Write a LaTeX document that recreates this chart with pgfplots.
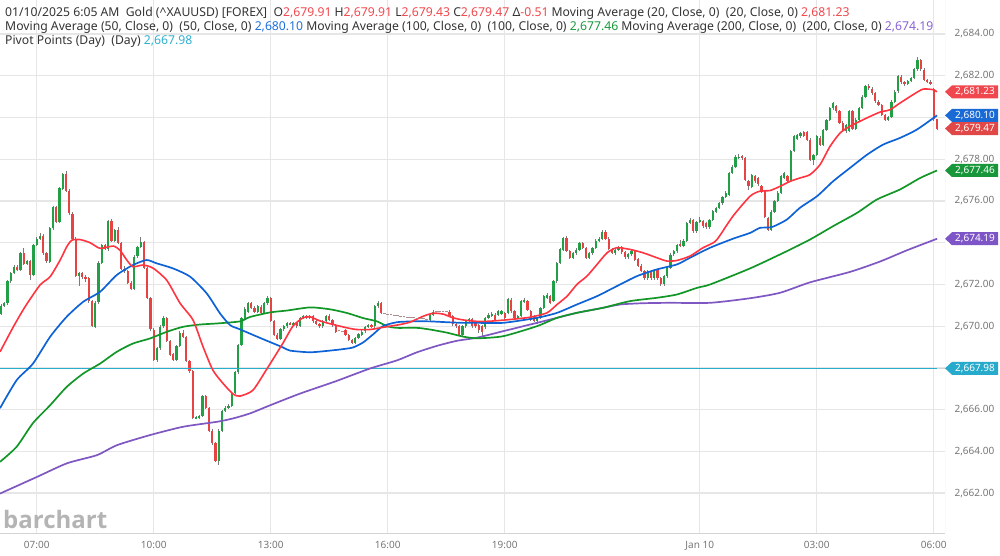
\documentclass[border=0pt]{standalone}
\usepackage{pgfplots}
\pgfplotsset{compat=1.18}
\usepackage{pgfplotstable}
\usepackage{fontspec}
\setmainfont{Noto Sans}
\newfontfamily\logofont{Open Sans}
\definecolor{cg}{HTML}{22A045}
\definecolor{cr}{HTML}{E84343}
\definecolor{wick}{HTML}{7A7A7A}
\definecolor{dojic}{HTML}{A89090}
\definecolor{ma20}{HTML}{FF3440}
\definecolor{ma50}{HTML}{0D62D6}
\definecolor{ma100}{HTML}{129628}
\definecolor{ma200}{HTML}{7E57C2}
\definecolor{piv}{HTML}{26AECC}
\definecolor{gridc}{HTML}{E6E6E6}
\definecolor{axisc}{HTML}{D4D4D4}
\definecolor{tickc}{HTML}{767676}
\definecolor{txt}{HTML}{333333}
\definecolor{hred}{HTML}{F0484E}
\definecolor{hblue}{HTML}{1E6FDB}
\definecolor{hgreen}{HTML}{1A9A3A}
\definecolor{hpurple}{HTML}{8A63D2}
\definecolor{hcyan}{HTML}{2EB0D0}
\definecolor{logoc}{HTML}{B4B4B4}
\definecolor{tagred}{HTML}{F0464E}
\definecolor{tagred2}{HTML}{E04848}
\definecolor{tagblue}{HTML}{1A6AD6}
\definecolor{taggreen}{HTML}{17963A}
\definecolor{tagpurple}{HTML}{7D55C7}
\definecolor{tagcyan}{HTML}{27AACB}

\pgfplotstableread{
k o h l c
0 2670.60 2671.06 2670.54 2671.00
1 2671.00 2671.16 2670.94 2671.10
2 2671.10 2672.21 2671.04 2672.15
3 2672.15 2672.61 2672.09 2672.55
4 2672.55 2672.95 2672.49 2672.85
5 2672.85 2672.91 2672.64 2672.70
6 2672.70 2673.56 2672.64 2673.50
7 2673.50 2673.75 2672.94 2673.00
8 2673.00 2673.16 2672.94 2673.10
9 2673.10 2673.16 2672.20 2672.45
10 2672.45 2673.96 2672.39 2673.90
11 2673.90 2674.26 2673.84 2674.20
12 2674.20 2674.45 2674.14 2674.35
13 2674.35 2674.41 2673.44 2673.50
14 2673.50 2673.56 2673.04 2673.10
15 2673.10 2674.76 2673.04 2674.70
16 2674.70 2675.76 2674.64 2675.70
17 2675.70 2675.76 2674.94 2675.00
18 2675.00 2676.66 2674.94 2676.60
19 2676.60 2677.36 2676.54 2677.30
20 2677.30 2677.42 2676.44 2676.50
21 2676.50 2676.56 2675.34 2675.40
22 2675.40 2675.46 2674.14 2674.20
23 2674.20 2674.26 2672.34 2672.40
24 2672.40 2672.61 2671.95 2672.55
25 2672.55 2672.61 2672.29 2672.35
26 2672.35 2672.45 2672.15 2672.30
27 2672.30 2672.36 2671.14 2671.20
28 2671.20 2671.26 2669.94 2670.00
29 2670.00 2671.21 2669.94 2671.15
30 2671.15 2673.11 2671.09 2673.05
31 2673.05 2673.96 2672.99 2673.90
32 2673.90 2673.96 2673.64 2673.70
33 2673.70 2675.11 2673.64 2675.05
34 2675.05 2675.15 2674.04 2674.10
35 2674.10 2674.66 2674.04 2674.60
36 2674.60 2674.75 2673.94 2674.00
37 2674.00 2674.06 2672.69 2672.75
38 2672.75 2672.90 2672.55 2672.65
39 2672.65 2672.71 2672.04 2672.10
40 2672.10 2672.16 2671.74 2671.80
41 2671.80 2673.41 2671.74 2673.35
42 2673.35 2673.86 2673.29 2673.80
43 2673.80 2674.30 2673.74 2674.05
44 2674.05 2674.11 2672.74 2672.80
45 2672.80 2672.86 2671.29 2671.35
46 2671.35 2671.41 2669.79 2669.85
47 2669.85 2669.91 2668.34 2668.40
48 2668.40 2669.01 2668.30 2668.95
49 2668.95 2670.06 2668.89 2670.00
50 2670.00 2670.50 2669.94 2670.40
51 2670.40 2670.46 2669.24 2669.30
52 2669.30 2669.36 2668.59 2668.65
53 2668.65 2668.71 2668.34 2668.40
54 2668.40 2669.11 2668.34 2669.05
55 2669.05 2669.76 2668.99 2669.70
56 2669.70 2669.80 2669.44 2669.50
57 2669.50 2669.56 2668.29 2668.35
58 2668.35 2668.41 2667.79 2667.85
59 2667.85 2667.91 2665.54 2665.60
60 2665.60 2665.71 2665.54 2665.65
61 2665.65 2665.76 2665.59 2665.70
62 2665.70 2666.71 2665.64 2666.65
63 2666.65 2666.71 2666.04 2666.10
64 2666.10 2666.16 2664.94 2665.00
65 2665.00 2665.06 2664.34 2664.40
66 2664.40 2664.46 2663.49 2663.55
67 2663.55 2665.06 2663.35 2665.00
68 2665.00 2666.01 2664.94 2665.95
69 2665.95 2666.16 2665.89 2666.10
70 2666.10 2666.26 2666.04 2666.20
71 2666.20 2666.86 2666.14 2666.80
72 2666.80 2667.86 2666.74 2667.80
73 2667.80 2669.16 2667.74 2669.10
74 2669.10 2670.46 2669.04 2670.40
75 2670.40 2670.91 2670.34 2670.85
76 2670.70 2671.16 2670.64 2671.10
77 2671.10 2671.16 2670.84 2670.90
78 2670.90 2670.96 2670.64 2670.70
79 2670.70 2671.01 2670.64 2670.95
80 2670.95 2671.01 2670.59 2670.65
81 2670.65 2671.16 2670.59 2671.10
82 2671.10 2671.45 2671.04 2671.35
83 2671.35 2671.41 2670.19 2670.25
84 2670.25 2670.31 2669.54 2669.60
85 2669.60 2669.66 2669.34 2669.40
86 2669.40 2669.91 2669.34 2669.85
87 2669.85 2670.06 2669.79 2670.00
88 2670.00 2670.21 2669.94 2670.15
89 2670.15 2670.21 2670.04 2670.10
90 2670.10 2670.21 2670.04 2670.15
91 2670.15 2670.21 2669.94 2670.00
92 2670.00 2670.46 2669.94 2670.40
93 2670.40 2670.56 2670.34 2670.50
94 2670.50 2670.56 2670.34 2670.40
95 2670.40 2670.56 2670.34 2670.50
96 2670.50 2670.56 2670.19 2670.25
97 2670.25 2670.31 2670.04 2670.10
98 2670.10 2670.16 2669.94 2670.00
99 2670.00 2670.31 2669.94 2670.25
100 2670.25 2670.56 2670.19 2670.50
101 2670.50 2670.60 2670.24 2670.30
102 2670.30 2670.36 2669.99 2670.05
103 2670.05 2670.11 2669.69 2669.75
104 2669.80 2669.80 2669.80 2669.80
105 2669.75 2669.75 2669.75 2669.75
106 2669.80 2669.86 2669.54 2669.60
107 2669.60 2669.66 2669.29 2669.35
108 2669.35 2669.41 2669.14 2669.20
109 2669.20 2669.51 2669.14 2669.45
110 2669.45 2669.66 2669.39 2669.60
111 2669.60 2669.81 2669.54 2669.75
112 2669.75 2670.01 2669.69 2669.95
113 2669.95 2670.11 2669.89 2670.05
114 2670.05 2670.11 2669.94 2670.00
115 2670.00 2671.01 2669.94 2670.95
116 2670.95 2671.20 2670.89 2671.10
117 2671.10 2671.16 2670.59 2670.65
118 2670.60 2670.60 2670.60 2670.60
119 2670.55 2670.55 2670.55 2670.55
120 2670.55 2670.55 2670.55 2670.55
121 2670.50 2670.50 2670.50 2670.50
122 2670.50 2670.50 2670.50 2670.50
123 2670.45 2670.45 2670.45 2670.45
124 2670.45 2670.45 2670.45 2670.45
125 2670.40 2670.40 2670.40 2670.40
126 2670.40 2670.40 2670.40 2670.40
127 2670.40 2670.40 2670.40 2670.40
128 2670.35 2670.35 2670.35 2670.35
129 2670.35 2670.35 2670.35 2670.35
130 2670.35 2670.35 2670.35 2670.35
131 2670.30 2670.30 2670.30 2670.30
132 2670.30 2670.61 2670.24 2670.55
133 2670.55 2670.76 2670.49 2670.70
134 2670.70 2670.70 2670.70 2670.70
135 2670.72 2670.72 2670.72 2670.72
136 2670.72 2670.72 2670.72 2670.72
137 2670.70 2670.70 2670.70 2670.70
138 2670.70 2670.76 2670.44 2670.50
139 2670.50 2670.56 2670.04 2670.10
140 2670.10 2670.16 2669.94 2670.00
141 2670.00 2670.06 2669.54 2669.60
142 2669.60 2670.06 2669.54 2670.00
143 2670.00 2670.31 2669.94 2670.25
144 2670.25 2670.41 2670.19 2670.35
145 2670.35 2670.41 2669.94 2670.00
146 2670.15 2670.21 2669.94 2670.00
147 2670.05 2670.11 2669.70 2669.84
148 2670.00 2670.06 2669.55 2669.70
149 2669.95 2670.46 2669.89 2670.40
150 2670.40 2670.62 2670.34 2670.56
151 2670.50 2670.66 2670.44 2670.60
152 2670.56 2670.62 2670.24 2670.30
153 2670.56 2670.78 2670.50 2670.72
154 2670.60 2670.78 2670.54 2670.72
155 2670.64 2670.70 2670.34 2670.40
156 2670.64 2671.34 2670.58 2671.28
157 2671.28 2671.34 2670.66 2670.72
158 2670.72 2670.78 2670.34 2670.40
159 2670.40 2670.56 2670.34 2670.50
160 2670.48 2671.26 2670.42 2671.20
161 2671.20 2671.35 2671.14 2671.28
162 2671.20 2671.26 2670.74 2670.80
163 2670.72 2670.78 2670.26 2670.32
164 2670.48 2670.54 2670.21 2670.27
165 2670.24 2670.46 2670.10 2670.40
166 2670.40 2670.94 2670.34 2670.88
167 2670.88 2671.50 2670.82 2671.44
168 2671.36 2671.58 2671.30 2671.52
169 2671.44 2671.50 2671.06 2671.12
170 2671.20 2672.22 2671.14 2672.16
171 2672.16 2673.10 2672.10 2673.04
172 2673.04 2673.74 2672.98 2673.68
173 2673.68 2674.30 2673.62 2674.24
174 2674.24 2674.30 2673.54 2673.60
175 2673.60 2673.66 2673.22 2673.28
176 2673.28 2673.58 2673.22 2673.52
177 2673.50 2673.74 2673.44 2673.68
178 2673.68 2674.06 2673.62 2674.00
179 2674.00 2674.06 2673.70 2673.76
180 2673.76 2673.82 2673.24 2673.30
181 2673.30 2673.56 2673.24 2673.50
182 2673.50 2673.81 2673.44 2673.75
183 2673.75 2674.16 2673.69 2674.10
184 2674.10 2674.26 2674.04 2674.20
185 2674.20 2674.61 2674.14 2674.55
186 2674.55 2674.61 2674.14 2674.20
187 2674.20 2674.26 2673.64 2673.70
188 2673.70 2673.76 2673.44 2673.50
189 2673.50 2673.71 2673.44 2673.65
190 2673.65 2673.86 2673.59 2673.80
191 2673.80 2673.86 2673.49 2673.55
192 2673.55 2673.61 2673.24 2673.30
193 2673.30 2673.51 2673.24 2673.45
194 2673.45 2673.66 2673.39 2673.60
195 2673.60 2673.66 2673.14 2673.20
196 2673.20 2673.26 2672.84 2672.90
197 2672.90 2672.96 2672.59 2672.65
198 2672.65 2672.71 2672.24 2672.30
199 2672.30 2672.71 2672.24 2672.65
200 2672.65 2672.71 2672.24 2672.30
201 2672.30 2672.76 2672.24 2672.70
202 2672.70 2672.76 2672.24 2672.30
203 2672.30 2672.36 2671.94 2672.00
204 2672.00 2672.46 2671.94 2672.40
205 2672.40 2672.86 2672.34 2672.80
206 2672.80 2673.51 2672.74 2673.45
207 2673.45 2673.66 2673.39 2673.60
208 2673.60 2673.96 2673.54 2673.90
209 2673.95 2674.15 2673.79 2673.85
210 2673.85 2674.16 2673.79 2674.10
211 2674.10 2675.01 2674.04 2674.95
212 2674.95 2675.20 2674.89 2675.10
213 2675.10 2675.16 2674.49 2674.55
214 2674.55 2675.06 2674.49 2675.00
215 2675.00 2675.25 2674.94 2675.10
216 2675.05 2675.11 2674.74 2674.80
217 2674.95 2675.01 2674.69 2674.75
218 2674.75 2675.16 2674.69 2675.10
219 2675.10 2675.56 2675.04 2675.50
220 2675.50 2675.73 2675.44 2675.67
221 2675.67 2675.96 2675.61 2675.90
222 2675.90 2676.26 2675.84 2676.20
223 2676.20 2676.50 2676.14 2676.40
224 2676.30 2677.41 2676.24 2677.35
225 2677.35 2677.72 2677.29 2677.66
226 2677.66 2678.20 2677.60 2678.14
227 2678.06 2678.25 2678.00 2678.14
228 2678.14 2678.20 2677.99 2678.05
229 2678.05 2678.11 2676.94 2677.00
230 2676.95 2677.01 2676.55 2676.70
231 2676.70 2677.32 2676.64 2677.26
232 2677.20 2677.26 2676.89 2676.95
233 2677.10 2677.16 2676.74 2676.80
234 2676.70 2676.76 2676.39 2676.45
235 2676.50 2676.56 2675.21 2675.27
236 2675.20 2675.26 2674.55 2674.64
237 2674.64 2675.56 2674.58 2675.50
238 2675.50 2676.06 2675.44 2676.00
239 2676.00 2676.46 2675.94 2676.40
240 2676.40 2677.26 2676.34 2677.20
241 2677.10 2677.41 2677.04 2677.35
242 2677.20 2677.26 2676.89 2676.95
243 2676.95 2678.46 2676.89 2678.40
244 2678.40 2679.16 2678.34 2679.10
245 2679.00 2679.24 2678.94 2679.18
246 2679.10 2679.30 2679.04 2679.25
247 2679.30 2679.36 2679.09 2679.15
248 2679.30 2679.36 2678.89 2678.95
249 2678.95 2679.01 2677.92 2677.98
250 2677.98 2678.26 2677.75 2678.20
251 2678.20 2679.16 2678.14 2679.10
252 2679.05 2679.11 2678.64 2678.70
253 2678.70 2679.46 2678.64 2679.40
254 2679.40 2679.96 2679.34 2679.90
255 2679.90 2680.51 2679.84 2680.45
256 2680.45 2680.78 2680.39 2680.70
257 2680.55 2680.61 2680.24 2680.30
258 2680.30 2680.36 2679.69 2679.75
259 2679.75 2679.81 2679.29 2679.35
260 2679.35 2679.71 2679.29 2679.65
261 2679.35 2680.36 2679.29 2680.30
262 2680.30 2680.36 2679.39 2679.45
263 2679.45 2679.96 2679.39 2679.90
264 2679.90 2680.51 2679.84 2680.45
265 2680.45 2681.06 2680.39 2681.00
266 2681.00 2681.56 2680.94 2681.50
267 2681.50 2681.60 2681.34 2681.40
268 2681.40 2681.46 2681.11 2681.17
269 2681.17 2681.23 2680.71 2680.77
270 2680.77 2680.83 2680.54 2680.60
271 2680.60 2680.66 2680.07 2680.13
272 2680.13 2680.19 2679.84 2679.90
273 2679.90 2680.11 2679.84 2680.05
274 2680.05 2680.83 2679.99 2680.77
275 2680.77 2681.31 2680.71 2681.25
276 2681.25 2682.03 2681.19 2681.97
277 2681.97 2682.03 2681.64 2681.70
278 2681.70 2681.76 2681.54 2681.60
279 2681.60 2681.81 2681.54 2681.75
280 2681.75 2681.96 2681.69 2681.90
281 2681.90 2682.36 2681.84 2682.30
282 2682.30 2682.93 2682.24 2682.76
283 2682.76 2682.82 2682.24 2682.30
284 2682.30 2682.36 2681.74 2681.80
285 2681.80 2681.86 2681.66 2681.72
286 2681.72 2681.78 2681.54 2681.60
287 2681.36 2681.42 2679.85 2679.91
288 2679.91 2679.91 2679.43 2679.47
}\candles

\pgfplotstableread{
k v
104 2669.80
105 2669.75
118 2670.60
119 2670.55
120 2670.55
121 2670.50
122 2670.50
123 2670.45
124 2670.45
125 2670.40
126 2670.40
127 2670.40
128 2670.35
129 2670.35
130 2670.35
131 2670.30
134 2670.70
135 2670.72
136 2670.72
137 2670.70
}\dojis

\newcommand\pricetag[3]{%
  \fill[#2] (#1) -- ++(7pt,6.5pt) -- ++(46pt,0pt) -- ++(0pt,-13pt) -- ++(-46pt,0pt) -- cycle;
  \node[text=white, font=\bfseries\fontsize{10}{11}\selectfont, anchor=center, inner sep=0pt] at ([xshift=30pt]#1) {#3};}

\pgfplotsset{nomark/.style={only marks, mark=*, mark size=0pt, mark options={draw=none, fill=none}}}

\begin{document}
\begin{tikzpicture}
\useasboundingbox (0,-22pt) rectangle (1000pt,533pt);
\begin{axis}[
  at={(0,0)}, anchor=south west,
  width=945pt, height=533pt, scale only axis,
  xmin=-0.31, xmax=290.46, ymin=2660.09, ymax=2685.63,
  axis line style={draw=none},
  major tick length=0pt,
  grid=major, grid style={draw=gridc, line width=1.3pt},
  xtick={11,47,83,119,155,215,251,287},
  xticklabels={07:00,10:00,13:00,16:00,19:00,Jan 10,03:00,06:00},
  xticklabel style={font=\fontsize{10}{12}\selectfont, text=tickc, yshift=-5pt},
  ytick={2662,2664,...,2684},
  yticklabels={{2,662.00},{2,664.00},{2,666.00},{},{2,670.00},{2,672.00},{},{2,676.00},{2,678.00},{},{2,682.00},{2,684.00}},
  yticklabel pos=right,
  yticklabel style={anchor=west, xshift=6pt, font=\fontsize{10}{12}\selectfont, text=tickc},
]
% wicks
\addplot[nomark, forget plot, error bars/.cd, y dir=both, y explicit, error mark=none,
  error bar style={line width=0.8pt, draw=wick}]
  table[x=k, y expr={(\thisrow{h}+\thisrow{l})/2}, y error expr={(\thisrow{h}-\thisrow{l})/2}] {\candles};
% up bodies (zero length for down candles)
\addplot[nomark, forget plot, error bars/.cd, y dir=both, y explicit, error mark=none,
  error bar style={line width=2.2pt, draw=cg}]
  table[x=k, y expr={(\thisrow{o}+\thisrow{c})/2}, y error expr={max(\thisrow{c}-\thisrow{o},0)/2}] {\candles};
% down bodies (zero length for up candles)
\addplot[nomark, forget plot, error bars/.cd, y dir=both, y explicit, error mark=none,
  error bar style={line width=2.2pt, draw=cr}]
  table[x=k, y expr={(\thisrow{o}+\thisrow{c})/2}, y error expr={max(\thisrow{o}-\thisrow{c},0)/2}] {\candles};
% doji
\addplot[only marks, mark=-, mark size=1.3pt, mark options={draw=dojic, line width=0.9pt}] table[x=k, y=v] {\dojis};

% pivot
\addplot[piv, line width=1.6pt] coordinates {(-0.31,2667.98) (288,2667.98)};
\addplot[axisc, line width=1pt] coordinates {(288,2667.98) (290.46,2667.98)};

% MA200
\addplot[ma200, line width=1.7pt, smooth, tension=0.4] coordinates {
(-0.3,2661.98) (11.1,2662.78) (20.3,2663.43) (29.5,2663.82) (35.7,2664.30) (45.8,2664.78) (56.0,2665.18) (66.5,2665.42) (71.4,2665.58) (76.6,2665.82) (82.8,2666.21) (92.0,2666.77) (102.8,2667.35) (113.5,2667.97) (121.8,2668.36) (128.0,2668.75) (134.2,2669.06) (140.3,2669.30) (146.5,2669.45) (154.5,2669.76) (164.9,2670.16) (171.1,2670.40) (177.2,2670.64) (185.2,2670.88) (190.5,2671.04) (197.5,2671.10) (205.8,2671.12) (218.2,2671.12) (230.5,2671.34) (239.7,2671.60) (248.9,2672.10) (261.2,2672.60) (270.5,2673.10) (278.8,2673.64) (288.0,2674.19)};
% MA100
\addplot[ma100, line width=1.7pt, smooth, tension=0.4] coordinates {
(-0.3,2663.50) (4.8,2664.22) (9.8,2665.35) (15.1,2666.21) (20.2,2667.09) (25.3,2667.73) (30.5,2668.21) (35.6,2668.77) (40.6,2669.17) (45.8,2669.41) (51.0,2669.73) (56.0,2669.97) (61.2,2670.08) (66.4,2670.13) (73.5,2670.23) (76.6,2670.44) (82.8,2670.66) (88.0,2670.75) (95.1,2670.90) (101.2,2670.81) (106.5,2670.63) (111.4,2670.39) (115.7,2670.23) (118.8,2670.00) (121.8,2669.92) (128.0,2669.92) (132.0,2669.84) (137.2,2669.69) (142.2,2669.50) (146.5,2669.42) (154.5,2669.52) (164.9,2670.00) (171.1,2670.40) (177.2,2670.64) (185.2,2670.88) (193.5,2671.20) (201.8,2671.36) (208.0,2671.52) (214.2,2671.84) (218.2,2672.00) (230.5,2672.77) (241.2,2673.55) (248.9,2674.15) (256.0,2674.79) (263.4,2675.43) (269.5,2676.07) (276.6,2676.55) (282.8,2677.10) (288.0,2677.46)};
% MA50
\addplot[ma50, line width=1.7pt, smooth, tension=0.4] coordinates {
(-0.3,2666.07) (4.8,2667.41) (9.8,2668.20) (15.1,2669.49) (20.2,2670.45) (25.3,2671.17) (30.5,2671.65) (35.6,2672.45) (40.6,2672.93) (44.8,2673.17) (47.9,2673.01) (52.9,2672.77) (58.2,2672.37) (63.3,2671.57) (67.4,2670.61) (70.5,2670.05) (73.5,2669.85) (80.6,2669.38) (86.8,2668.98) (88.9,2668.83) (95.1,2668.75) (101.2,2668.83) (105.2,2668.90) (108.3,2668.98) (111.4,2669.22) (114.5,2669.61) (117.5,2670.00) (121.8,2670.19) (126.8,2670.23) (132.0,2670.23) (137.2,2670.19) (142.2,2670.16) (146.5,2670.16) (154.5,2670.16) (164.9,2670.40) (171.1,2670.64) (177.2,2671.04) (183.4,2671.44) (189.5,2671.92) (195.7,2672.40) (201.8,2672.72) (208.0,2672.96) (212.0,2673.28) (218.2,2673.76) (225.2,2674.19) (230.5,2674.47) (233.5,2674.71) (237.2,2674.75) (241.8,2675.11) (245.8,2675.67) (251.1,2676.23) (256.0,2676.94) (261.2,2677.58) (266.5,2678.22) (271.4,2678.70) (276.6,2679.02) (281.8,2679.42) (288.0,2680.10)};
% MA20
\addplot[ma20, line width=1.6pt, smooth, tension=0.4] coordinates {
(-0.3,2668.77) (3.8,2669.97) (7.4,2670.93) (12.0,2671.97) (15.1,2672.37) (18.2,2673.17) (20.2,2673.80) (21.8,2674.12) (24.3,2674.15) (27.4,2674.00) (30.5,2673.73) (34.5,2673.84) (36.6,2673.64) (38.7,2673.17) (40.6,2672.85) (43.7,2672.93) (46.8,2672.78) (51.0,2672.20) (55.1,2671.10) (59.1,2670.29) (62.2,2669.00) (65.2,2667.89) (68.3,2667.26) (71.4,2666.75) (73.5,2666.65) (77.5,2666.93) (81.8,2667.95) (86.8,2669.20) (89.8,2670.00) (92.9,2670.40) (95.1,2670.45) (98.2,2670.25) (102.2,2670.08) (106.5,2669.92) (109.5,2669.84) (113.5,2669.84) (116.6,2669.92) (119.7,2670.00) (122.8,2670.08) (125.8,2670.19) (129.8,2670.47) (132.9,2670.62) (136.0,2670.58) (139.1,2670.40) (142.2,2670.30) (146.5,2670.23) (150.5,2670.24) (156.6,2670.32) (162.8,2670.43) (168.0,2670.64) (171.1,2671.04) (174.2,2671.44) (177.2,2672.00) (180.3,2672.40) (183.4,2672.96) (186.5,2673.52) (189.5,2673.76) (193.5,2673.68) (197.5,2673.52) (201.8,2673.28) (204.9,2673.12) (208.0,2673.15) (212.0,2673.36) (216.0,2673.76) (218.2,2673.92) (220.3,2674.15) (225.2,2675.27) (230.5,2676.23) (233.5,2676.47) (236.6,2676.50) (239.7,2676.70) (242.8,2676.94) (245.8,2677.10) (248.9,2677.26) (252.0,2677.74) (255.1,2678.62) (258.2,2679.26) (261.2,2679.58) (264.3,2679.82) (267.4,2680.05) (270.5,2680.26) (273.5,2680.37) (276.6,2680.69) (280.6,2681.09) (283.7,2681.36) (286.8,2681.33) (288.0,2681.23)};

\draw[axisc, line width=1pt] (rel axis cs:1,0) -- (rel axis cs:1,1);
\draw[axisc, line width=1pt] (rel axis cs:0,0) -- (rel axis cs:1,0);

\coordinate (t1) at (axis cs:290.46,2681.23);
\coordinate (t2) at (axis cs:290.46,2680.10);
\coordinate (t3) at (axis cs:290.46,2679.47);
\coordinate (t4) at (axis cs:290.46,2677.46);
\coordinate (t5) at (axis cs:290.46,2674.19);
\coordinate (t6) at (axis cs:290.46,2667.98);
\end{axis}

\pricetag{t1}{tagred}{2,681.23}
\pricetag{t2}{tagblue}{2,680.10}
\pricetag{t3}{tagred2}{2,679.47}
\pricetag{t4}{taggreen}{2,677.46}
\pricetag{t5}{tagpurple}{2,674.19}
\pricetag{t6}{tagcyan}{2,667.98}

\node[anchor=base west, inner sep=0pt, text=txt, font=\fontsize{12.2}{14}\selectfont] at (5pt,516.5pt)
 {01/10/2025 6:05 AM\ \ Gold (\textasciicircum XAUUSD) [FOREX]\ \ O\textcolor{hred}{2,679.91} H\textcolor{hred}{2,679.91} L\textcolor{hred}{2,679.43} C\textcolor{hred}{2,679.47} Δ\textcolor{hred}{-0.51} Moving Average (20, Close, 0)\ \ (20, Close, 0) \textcolor{hred}{2,681.23}};
\node[anchor=base west, inner sep=0pt, text=txt, font=\fontsize{12.2}{14}\selectfont] at (5pt,502.5pt)
 {Moving Average (50, Close, 0)\ \ (50, Close, 0) \textcolor{hblue}{2,680.10} Moving Average (100, Close, 0)\ \ (100, Close, 0) \textcolor{hgreen}{2,677.46} Moving Average (200, Close, 0)\ \ (200, Close, 0) \textcolor{hpurple}{2,674.19}};
\node[anchor=base west, inner sep=0pt, text=txt, font=\fontsize{12.2}{14}\selectfont] at (5pt,488.5pt)
 {Pivot Points (Day)\ \ (Day) \textcolor{hcyan}{2,667.98}};

\node[anchor=base west, inner sep=0pt, text=logoc, font=\logofont\bfseries\fontsize{24}{24}\selectfont] at (3pt,5pt) {barchart};
\end{tikzpicture}
\end{document}
